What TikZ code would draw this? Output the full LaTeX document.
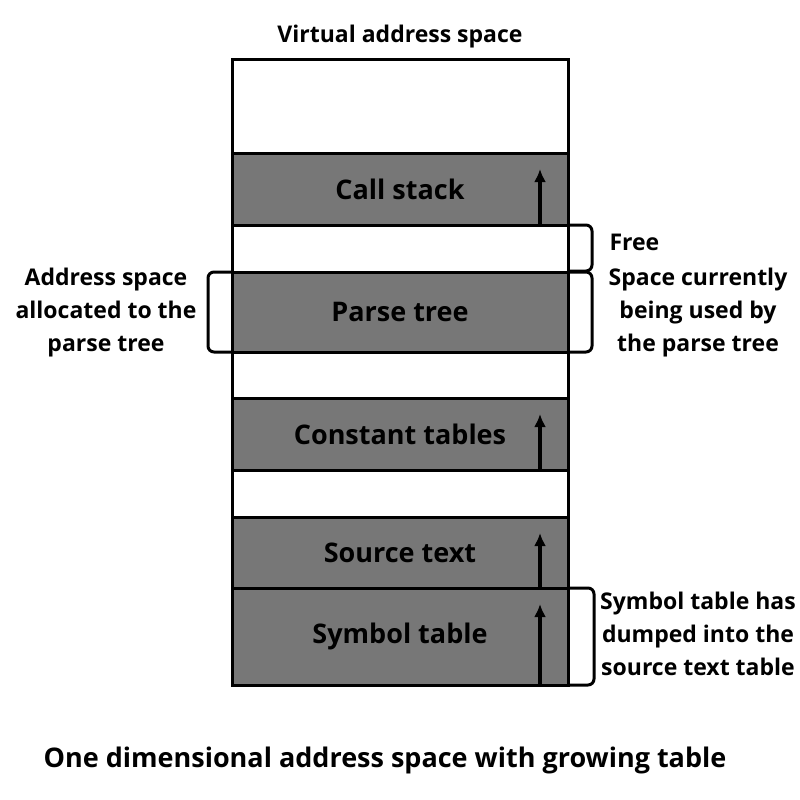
\documentclass[tikz,border=0pt]{standalone}
\usepackage{fontspec}
\setmainfont{Open Sans}
\usetikzlibrary{positioning,arrows.meta}
\definecolor{blockgray}{HTML}{777777}
\tikzset{
  row/.style={draw=black,line width=3pt,minimum width=336pt,inner sep=0pt,outer sep=0pt,font=\bfseries\fontsize{27}{30}\selectfont},
  used/.style={row,fill=blockgray},
  free/.style={row,fill=white},
  growarrow/.style={-{Latex[length=13pt,width=12pt]},line width=3.5pt},
  brace/.style={line width=3pt,rounded corners=6pt},
  side/.style={font=\bfseries\fontsize{23}{33}\selectfont,align=center}
}
\begin{document}
\begin{tikzpicture}[x=1pt,y=-1pt]
\useasboundingbox (0,0) rectangle (800,800);
% the address space, top to bottom
\node[free,minimum height=93pt,anchor=north] (top) at (400,60) {};
\node[used,minimum height=72pt,below=0pt of top] (stack) {Call stack};
\node[free,minimum height=47pt,below=0pt of stack] (gap1) {};
\node[used,minimum height=80pt,below=0pt of gap1] (parse) {Parse tree};
\node[free,minimum height=46pt,below=0pt of parse] (gap2) {};
\node[used,minimum height=72pt,below=0pt of gap2] (const) {Constant tables};
\node[free,minimum height=47pt,below=0pt of const] (gap3) {};
\node[used,minimum height=71pt,below=0pt of gap3] (source) {Source text};
\node[used,minimum height=97pt,below=0pt of source] (symbol) {Symbol table};
\node[font=\bfseries\fontsize{23}{26}\selectfont] (title) at (400,37) {Virtual address space};
% growth arrows
\foreach \t in {stack,const,source,symbol}
  \draw[growarrow] ([xshift=-28pt]\t.south east) -- ([xshift=-28pt,yshift=-16pt]\t.north east);
% brackets
\draw[brace] (gap1.north east) -- ++(24,0) -- ++(0,46) -- ++(-24,0);
\draw[brace] (parse.north east) -- ++(24,0) -- ++(0,80) -- ++(-24,0);
\draw[brace] (parse.north west) -- ++(-24,0) -- ++(0,80) -- ++(24,0);
\draw[brace] (symbol.north east) -- ++(26,0) -- ++(0,97) -- ++(-26,0);
% side notes
\node[side,anchor=west] (freelbl) at (606,242) {Free};
\node[side] (usedlbl) at (698,313) {Space currently\\being used by\\the parse tree};
\node[side] (alloclbl) at (106,313) {Address space\\allocated to the\\parse tree};
\node[side] (dumplbl) at (698,634) {Symbol table has\\dumped into the\\source text table};
\node[font=\bfseries\fontsize{27}{30}\selectfont] (caption) at (385,760) {One dimensional address space with growing table};
\end{tikzpicture}
\end{document}
